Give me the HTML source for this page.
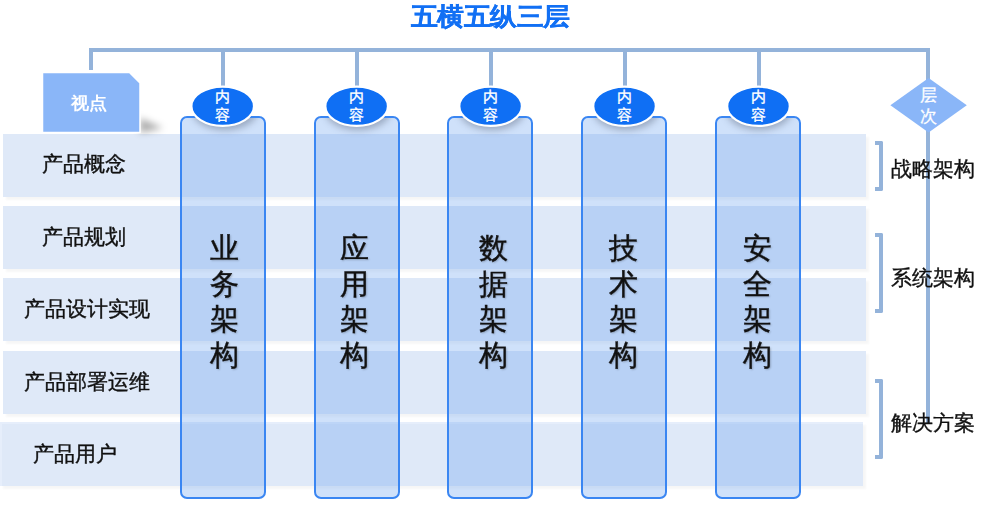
<!DOCTYPE html>
<html><head><meta charset="utf-8">
<style>
*{margin:0;padding:0;box-sizing:border-box;}
html,body{width:987px;height:518px;overflow:hidden;background:#fff;font-family:"Liberation Sans",sans-serif;}
.t{will-change:transform;}
.a{position:absolute;}
.line{position:absolute;background:#94b3da;}
.row{position:absolute;background:#dfe9f8;box-shadow:2.5px 3px 2px rgba(0,0,0,0.035);}
.rt{position:absolute;font-size:20.5px;-webkit-text-stroke:0.4px #111;color:#111;white-space:nowrap;line-height:1;}
.col{position:absolute;top:116px;width:86px;height:383px;border:2px solid #3a86f2;border-radius:7px;background:rgba(95,155,238,0.3);overflow:hidden;}
.sh{position:absolute;left:9.5px;top:-28px;width:66px;height:40px;border-radius:50%;background:rgba(40,50,70,0.32);filter:blur(3.5px);}
.ct{position:absolute;width:86px;text-align:center;font-size:28.5px;line-height:35.7px;color:#111;-webkit-text-stroke:0.4px #111;text-shadow:1px 1px 2px rgba(0,0,0,0.25);}
.ell{position:absolute;}
.et{position:absolute;width:40px;text-align:center;font-size:15px;line-height:17.6px;color:#fff;-webkit-text-stroke:0.35px #fff;}
.br{position:absolute;width:8px;border:4px solid #94b3da;border-left:none;border-radius:0 2px 2px 0;}
.lab{position:absolute;left:891px;margin-top:0.6px;font-size:20.5px;-webkit-text-stroke:0.35px #111;color:#111;white-space:nowrap;line-height:1;}
</style></head><body>

<!-- title -->
<div class="a" style="left:410.8px;top:5.1px;font-size:26.5px;letter-spacing:-0.5px;transform:scaleY(0.93);transform-origin:0 0;font-weight:bold;color:#1270f4;-webkit-text-stroke:0.3px #1270f4;line-height:1;white-space:nowrap;">五横五纵三层</div>

<!-- connector lines -->
<div class="line" style="left:89px;top:48px;width:841px;height:4px;"></div>
<div class="line" style="left:89px;top:48px;width:4px;height:21.5px;"></div>
<div class="line" style="left:220.70px;top:48px;width:4px;height:40px;"></div>
<div class="line" style="left:354.65px;top:48px;width:4px;height:40px;"></div>
<div class="line" style="left:488.60px;top:48px;width:4px;height:40px;"></div>
<div class="line" style="left:622.55px;top:48px;width:4px;height:40px;"></div>
<div class="line" style="left:756.50px;top:48px;width:4px;height:40px;"></div>
<div class="line" style="left:926px;top:48px;width:4.2px;height:374.5px;"></div>

<!-- rows -->
<div class="row" style="left:3px;top:134px;width:863px;height:62.7px;"></div>
<div class="row" style="left:3px;top:206px;width:863px;height:63px;"></div>
<div class="row" style="left:3px;top:278px;width:863px;height:63px;"></div>
<div class="row" style="left:3px;top:351px;width:863px;height:63px;"></div>
<div class="row" style="left:0px;top:422px;width:862.6px;height:64px;border-left:2px solid #e6eefb;border-top:2.5px solid #e6eefb;"></div>

<div class="rt t" style="left:42px;top:154px;">产品概念</div>
<div class="rt t" style="left:42px;top:226.6px;">产品规划</div>
<div class="rt t" style="left:24px;top:299px;">产品设计实现</div>
<div class="rt t" style="left:24px;top:371.5px;">产品部署运维</div>
<div class="rt t" style="left:33px;top:443.5px;">产品用户</div>

<!-- 视点 box -->
<svg class="a" style="left:38px;top:68px;" width="130" height="75" viewBox="0 0 130 75">
  <defs><filter id="bl" x="-50%" y="-50%" width="200%" height="200%"><feGaussianBlur stdDeviation="3.5"/></filter></defs>
  <path d="M102 50 L102 65 L125 60 Z" fill="rgba(0,0,0,0.32)" filter="url(#bl)"/>
  <path d="M4.5 4.5 H91.5 L102 15 V64.5 H4.5 Z" fill="#8ab6f8" stroke="#fff" stroke-width="1.5"/>
</svg>
<div class="a" style="left:70.8px;top:95.5px;font-size:17.8px;font-weight:bold;color:#fff;line-height:1;white-space:nowrap;transform:scaleY(0.94);transform-origin:0 0;">视点</div>

<!-- columns -->
<div class="col" style="left:180.0px;"><div class="sh"></div></div>
<div class="col" style="left:313.7px;"><div class="sh"></div></div>
<div class="col" style="left:447.4px;"><div class="sh"></div></div>
<div class="col" style="left:581.1px;"><div class="sh"></div></div>
<div class="col" style="left:714.8px;"><div class="sh"></div></div>

<div class="ct t" style="left:181.00px;top:231.3px;">业<br>务<br>架<br>构</div>
<div class="ct t" style="left:310.80px;top:231.3px;">应<br>用<br>架<br>构</div>
<div class="ct t" style="left:450.05px;top:231.3px;">数<br>据<br>架<br>构</div>
<div class="ct t" style="left:580.10px;top:231.3px;">技<br>术<br>架<br>构</div>
<div class="ct t" style="left:714.15px;top:231.3px;">安<br>全<br>架<br>构</div>

<!-- ellipses -->
<svg class="a" style="left:0;top:0;" width="987" height="150">
  <defs><filter id="bl2" x="-50%" y="-50%" width="200%" height="200%"><feGaussianBlur stdDeviation="3"/></filter></defs>
  <ellipse cx="222.70" cy="106.3" rx="31.3" ry="19.6" fill="#0f6ff4" stroke="#fff" stroke-width="2.2"/>
  <ellipse cx="356.65" cy="106.3" rx="31.3" ry="19.6" fill="#0f6ff4" stroke="#fff" stroke-width="2.2"/>
  <ellipse cx="490.60" cy="106.3" rx="31.3" ry="19.6" fill="#0f6ff4" stroke="#fff" stroke-width="2.2"/>
  <ellipse cx="624.55" cy="106.3" rx="31.3" ry="19.6" fill="#0f6ff4" stroke="#fff" stroke-width="2.2"/>
  <ellipse cx="758.50" cy="106.3" rx="31.3" ry="19.6" fill="#0f6ff4" stroke="#fff" stroke-width="2.2"/>
  <path d="M928.6 78 L966.8 105.2 L928.6 132.6 L890.4 105.2 Z" fill="#8ab6f8"/>
</svg>
<div class="et" style="left:202.25px;top:88.1px;">内<br>容</div>
<div class="et" style="left:336.20px;top:88.1px;">内<br>容</div>
<div class="et" style="left:470.15px;top:88.1px;">内<br>容</div>
<div class="et" style="left:604.10px;top:88.1px;">内<br>容</div>
<div class="et" style="left:738.05px;top:88.1px;">内<br>容</div>
<div class="a" style="left:917.3px;top:84.8px;width:22px;text-align:center;font-size:17px;line-height:21px;color:#fff;-webkit-text-stroke:0.3px #fff;">层<br>次</div>

<!-- brackets -->
<div class="br" style="left:875.2px;top:141px;height:50px;"></div>
<div class="br" style="left:875.2px;top:233px;height:80px;"></div>
<div class="br" style="left:875.2px;top:379px;height:80px;"></div>

<div class="lab t" style="top:158px;">战略架构</div>
<div class="lab t" style="top:267px;">系统架构</div>
<div class="lab t" style="top:412px;">解决方案</div>

</body></html>
